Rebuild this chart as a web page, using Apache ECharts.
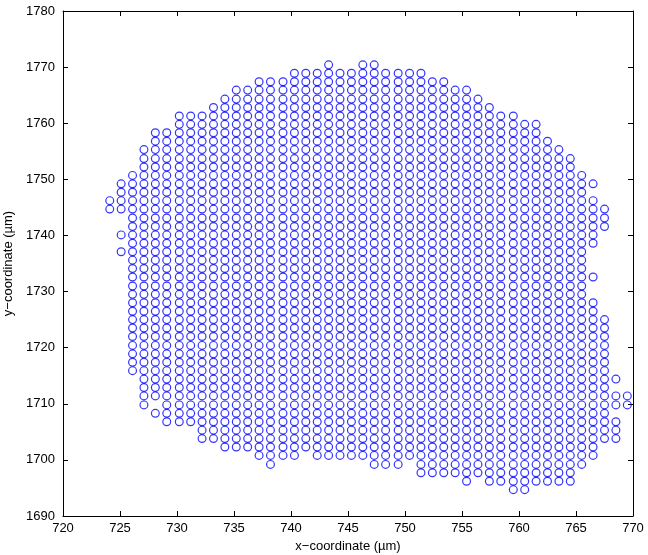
<!DOCTYPE html>
<html>
<head>
<meta charset="utf-8">
<script src="https://cdn.jsdelivr.net/npm/echarts@6/dist/echarts.min.js"></script>
<style>html,body{margin:0;padding:0;background:#fff}#c{width:648px;height:555px}</style>
</head>
<body>
<div id="c"></div>
<script>
// x position (µm) of each spot column
const columnX = [724.1, 725.1, 726.1, 727.1, 728.1, 729.1, 730.2, 731.2, 732.2, 733.2,
  734.2, 735.2, 736.2, 737.2, 738.2, 739.3, 740.3, 741.3, 742.3, 743.3,
  744.3, 745.3, 746.3, 747.3, 748.3, 749.4, 750.4, 751.4, 752.4, 753.4,
  754.4, 755.4, 756.4, 757.4, 758.4, 759.5, 760.5, 761.5, 762.5, 763.5,
  764.5, 765.5, 766.5, 767.5, 768.5, 769.5];
// y position (µm) of each spot row
const rowY = [1694.7, 1696.2, 1697.7, 1699.2, 1700.8, 1702.3, 1703.8, 1705.3, 1706.8, 1708.3,
  1709.8, 1711.4, 1712.9, 1714.4, 1715.9, 1717.4, 1718.9, 1720.4, 1722.0, 1723.5,
  1725.0, 1726.5, 1728.0, 1729.5, 1731.0, 1732.6, 1734.1, 1735.6, 1737.1, 1738.6,
  1740.1, 1741.6, 1743.1, 1744.7, 1746.2, 1747.7, 1749.2, 1750.7, 1752.2, 1753.7,
  1755.3, 1756.8, 1758.3, 1759.8, 1761.3, 1762.8, 1764.3, 1765.9, 1767.4, 1768.9, 1770.4];
// occupied rows in each column, as [firstRow, lastRow] runs (row indices into rowY)
const columnRuns = [
  [[33, 34]],
  [[28, 28], [30, 30], [33, 36]],
  [[14, 37]],
  [[10, 40]],
  [[9, 9], [11, 42]],
  [[8, 42]],
  [[8, 44]],
  [[8, 44]],
  [[6, 44]],
  [[6, 45]],
  [[5, 46]],
  [[5, 47]],
  [[5, 47]],
  [[4, 48]],
  [[3, 48]],
  [[4, 48]],
  [[4, 49]],
  [[5, 49]],
  [[4, 49]],
  [[4, 50]],
  [[4, 49]],
  [[4, 49]],
  [[4, 50]],
  [[3, 50]],
  [[3, 49]],
  [[3, 49]],
  [[4, 49]],
  [[2, 49]],
  [[2, 48]],
  [[2, 48]],
  [[2, 47]],
  [[1, 47]],
  [[2, 46]],
  [[1, 45]],
  [[1, 44]],
  [[0, 44]],
  [[0, 43]],
  [[1, 43]],
  [[1, 41]],
  [[1, 40]],
  [[1, 39]],
  [[3, 37]],
  [[4, 22], [25, 25], [29, 34], [36, 36]],
  [[6, 20], [31, 33]],
  [[6, 8], [10, 11], [13, 13]],
  [[10, 11]]
];
const xTicks = {min: 720, max: 770, step: 5};
const yTicks = {min: 1690, max: 1780, step: 10};

const points = [];
columnRuns.forEach((runs, k) => {
  runs.forEach(([a, b]) => {
    for (let j = a; j <= b; j++) points.push([columnX[k], rowY[j]]);
  });
});

const font = 'Liberation Sans, Arial, Helvetica, sans-serif';
const lineStyle = {color: '#000', width: 1};
function axisX(pos, show) {
  return {
    type: 'value', position: pos, min: xTicks.min, max: xTicks.max, interval: xTicks.step,
    axisLine: {show: true, onZero: false, lineStyle},
    axisTick: {show: true, inside: true, length: 5, lineStyle},
    axisLabel: {show: show, color: '#000', fontSize: 13, fontFamily: font, margin: 6,
      formatter: v => String(v)},
    splitLine: {show: false},
    name: show ? 'x\u2212coordinate (\u00b5m)' : '', nameLocation: 'middle', nameGap: 24,
    nameTextStyle: {color: '#000', fontSize: 13, fontFamily: font}
  };
}
function axisY(pos, show) {
  return {
    type: 'value', position: pos, min: yTicks.min, max: yTicks.max, interval: yTicks.step,
    axisLine: {show: true, onZero: false, lineStyle},
    axisTick: {show: true, inside: true, length: 5, lineStyle},
    axisLabel: {show: show, color: '#000', fontSize: 13, fontFamily: font, margin: 8,
      formatter: v => String(v)},
    splitLine: {show: false},
    name: show ? 'y\u2212coordinate (\u00b5m)' : '', nameLocation: 'middle', nameGap: 42, nameRotate: 90,
    nameTextStyle: {color: '#000', fontSize: 13, fontFamily: font}
  };
}
const chart = echarts.init(document.getElementById('c'), null, {renderer: 'canvas'});
chart.setOption({
  animation: false,
  backgroundColor: '#fff',
  grid: {left: 63, right: 15, top: 11, bottom: 39, containLabel: false, outerBoundsMode: 'none'},
  xAxis: [axisX('bottom', true), axisX('top', false)],
  yAxis: [axisY('left', true), axisY('right', false)],
  series: [{
    type: 'scatter', xAxisIndex: 0, yAxisIndex: 0,
    data: points, symbol: 'circle', symbolSize: 7.8,
    itemStyle: {color: 'rgba(0,0,0,0)', borderColor: '#0000ff', borderWidth: 1.2},
    emphasis: {disabled: true}
  }]
});
</script>
</body>
</html>
